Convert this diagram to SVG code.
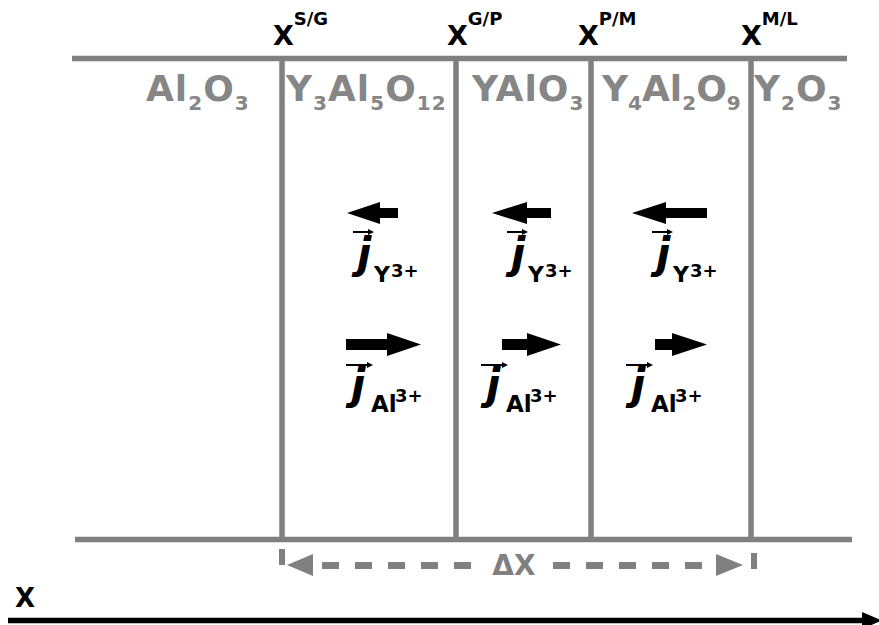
<svg xmlns="http://www.w3.org/2000/svg" width="879" height="625" viewBox="0 0 879 625">
  <style>
    .bound { stroke: #808080; stroke-width: 5.5; fill: none; }
    .phase { font-family: "DejaVu Sans", "Liberation Sans", sans-serif; font-weight: bold; font-size: 36px; letter-spacing: 1px; fill: #868686; }
    .phase .sub { font-size: 20px; }
    .phase.tight { letter-spacing: 0px; }
    .iface { font-family: "DejaVu Sans", "Liberation Sans", sans-serif; font-weight: bold; font-size: 27px; fill: #000; }
    .iface .sup { font-size: 18px; }
    .flux { fill: #000; }
    .jsym { font-family: "DejaVu Sans", "Liberation Sans", sans-serif; font-weight: bold; font-style: italic; font-size: 42px; fill: #000; }
    .ion { font-family: "DejaVu Sans", "Liberation Sans", sans-serif; font-weight: bold; fill: #000; }
    .vec { stroke: #000; stroke-width: 2; fill: none; }
    .dim { stroke: #808080; stroke-width: 7; fill: none; }
    .dimtxt { font-family: "DejaVu Sans", "Liberation Sans", sans-serif; font-weight: bold; font-size: 28px; fill: #808080; }
  </style>
  <defs>
    <!-- small arrowhead used for the vector sign above j -->
    <path id="vhead" d="M0,0 L-6,-3 L-6,3 Z" fill="#000"/>
  </defs>

  <!-- layer boundaries -->
  <g id="boundaries">
    <line class="bound" x1="72" y1="58.5" x2="847" y2="58.5"/>
    <line class="bound" x1="75" y1="539.5" x2="852" y2="539.5"/>
    <line class="bound" x1="282" y1="58" x2="282" y2="540"/>
    <line class="bound" x1="456" y1="58" x2="456" y2="540"/>
    <line class="bound" x1="591" y1="58" x2="591" y2="540"/>
    <line class="bound" x1="751" y1="58" x2="751" y2="540"/>
  </g>

  <!-- phase names -->
  <g id="phase-al2o3">
    <text class="phase" x="146" y="101">Al<tspan class="sub" dy="9">2</tspan><tspan dy="-9">O</tspan><tspan class="sub" dy="9">3</tspan></text>
  </g>
  <g id="phase-yag">
    <text class="phase" x="286" y="101">Y<tspan class="sub" dy="9">3</tspan><tspan dy="-9">Al</tspan><tspan class="sub" dy="9">5</tspan><tspan dy="-9">O</tspan><tspan class="sub" dy="9">12</tspan></text>
  </g>
  <g id="phase-yap">
    <text class="phase" x="472" y="101">YAlO<tspan class="sub" dy="9">3</tspan></text>
  </g>
  <g id="phase-yam">
    <text class="phase tight" x="602" y="101">Y<tspan class="sub" dy="9">4</tspan><tspan dy="-9">Al</tspan><tspan class="sub" dy="9">2</tspan><tspan dy="-9">O</tspan><tspan class="sub" dy="9">9</tspan></text>
  </g>
  <g id="phase-y2o3">
    <text class="phase" x="754" y="101">Y<tspan class="sub" dy="9">2</tspan><tspan dy="-9">O</tspan><tspan class="sub" dy="9">3</tspan></text>
  </g>

  <!-- interface positions -->
  <g id="iface-sg"><text class="iface" x="273" y="45">X<tspan class="sup" dy="-20">S/G</tspan></text></g>
  <g id="iface-gp"><text class="iface" x="447" y="45">X<tspan class="sup" dy="-20">G/P</tspan></text></g>
  <g id="iface-pm"><text class="iface" x="578" y="45">X<tspan class="sup" dy="-20">P/M</tspan></text></g>
  <g id="iface-ml"><text class="iface" x="741" y="45">X<tspan class="sup" dy="-20">M/L</tspan></text></g>

  <!-- fluxes in the garnet layer -->
  <g id="flux-yag">
    <path class="flux" d="M347,213 L380,202 L380,208 L398,208 L398,218 L380,218 L380,224 Z"/>
    <text class="jsym" x="357" y="268">j</text>
    <line class="vec" x1="353" y1="232" x2="369" y2="232"/><use href="#vhead" x="374" y="232"/>
    <text class="ion" x="374" y="282" font-size="22">Y</text>
    <text class="ion" x="391" y="277" font-size="18">3+</text>

    <path class="flux" d="M346,339 L387,339 L387,333 L421,344.5 L387,356 L387,350 L346,350 Z"/>
    <text class="jsym" x="351" y="399">j</text>
    <line class="vec" x1="346" y1="365" x2="368" y2="365"/><use href="#vhead" x="373" y="365"/>
    <text class="ion" x="371" y="412" font-size="23">Al</text>
    <text class="ion" x="395" y="402" font-size="18">3+</text>
  </g>

  <!-- fluxes in the perovskite layer -->
  <g id="flux-yap">
    <path class="flux" d="M492,213 L527,202 L527,208 L551,208 L551,218 L527,218 L527,224 Z"/>
    <text class="jsym" x="511" y="268">j</text>
    <line class="vec" x1="507" y1="232" x2="523" y2="232"/><use href="#vhead" x="528" y="232"/>
    <text class="ion" x="528" y="282" font-size="22">Y</text>
    <text class="ion" x="545" y="277" font-size="18">3+</text>

    <path class="flux" d="M502,339 L527,339 L527,333 L561,344.5 L527,356 L527,350 L502,350 Z"/>
    <text class="jsym" x="486" y="399">j</text>
    <line class="vec" x1="481" y1="365" x2="503" y2="365"/><use href="#vhead" x="508" y="365"/>
    <text class="ion" x="506" y="412" font-size="23">Al</text>
    <text class="ion" x="530" y="402" font-size="18">3+</text>
  </g>

  <!-- fluxes in the monoclinic layer -->
  <g id="flux-yam">
    <path class="flux" d="M632,213 L666,202 L666,208 L707,208 L707,218 L666,218 L666,224 Z"/>
    <text class="jsym" x="656" y="268">j</text>
    <line class="vec" x1="652" y1="232" x2="668" y2="232"/><use href="#vhead" x="673" y="232"/>
    <text class="ion" x="673" y="282" font-size="22">Y</text>
    <text class="ion" x="690" y="277" font-size="18">3+</text>

    <path class="flux" d="M655,339 L672,339 L672,333 L707,344.5 L672,356 L672,350 L655,350 Z"/>
    <text class="jsym" x="631" y="399">j</text>
    <line class="vec" x1="626" y1="365" x2="648" y2="365"/><use href="#vhead" x="653" y="365"/>
    <text class="ion" x="651" y="412" font-size="23">Al</text>
    <text class="ion" x="675" y="402" font-size="18">3+</text>
  </g>

  <!-- total thickness of the reaction zone -->
  <g id="thickness">
    <rect x="279" y="549" width="6" height="16" fill="#808080"/>
    <rect x="751" y="553" width="6" height="16" fill="#808080"/>
    <path d="M287,565 L313,554 L313,576 Z" fill="#808080"/>
    <path d="M743,565 L716,554 L716,576 Z" fill="#808080"/>
    <line class="dim" x1="322" y1="565.5" x2="472" y2="565.5" stroke-dasharray="17 16"/>
    <line class="dim" x1="553" y1="565.5" x2="704" y2="565.5" stroke-dasharray="17 16"/>
    <text class="dimtxt" x="514" y="575" text-anchor="middle">ΔX</text>
  </g>

  <!-- position axis -->
  <g id="axis">
    <line x1="8" y1="620.5" x2="864" y2="620.5" stroke="#000" stroke-width="5.5"/>
    <path d="M862,612 L882,620.5 L862,629 Z" fill="#000"/>
    <text x="15" y="607" font-family="DejaVu Sans, Liberation Sans, sans-serif" font-weight="bold" font-size="26" fill="#000">X</text>
  </g>
</svg>
